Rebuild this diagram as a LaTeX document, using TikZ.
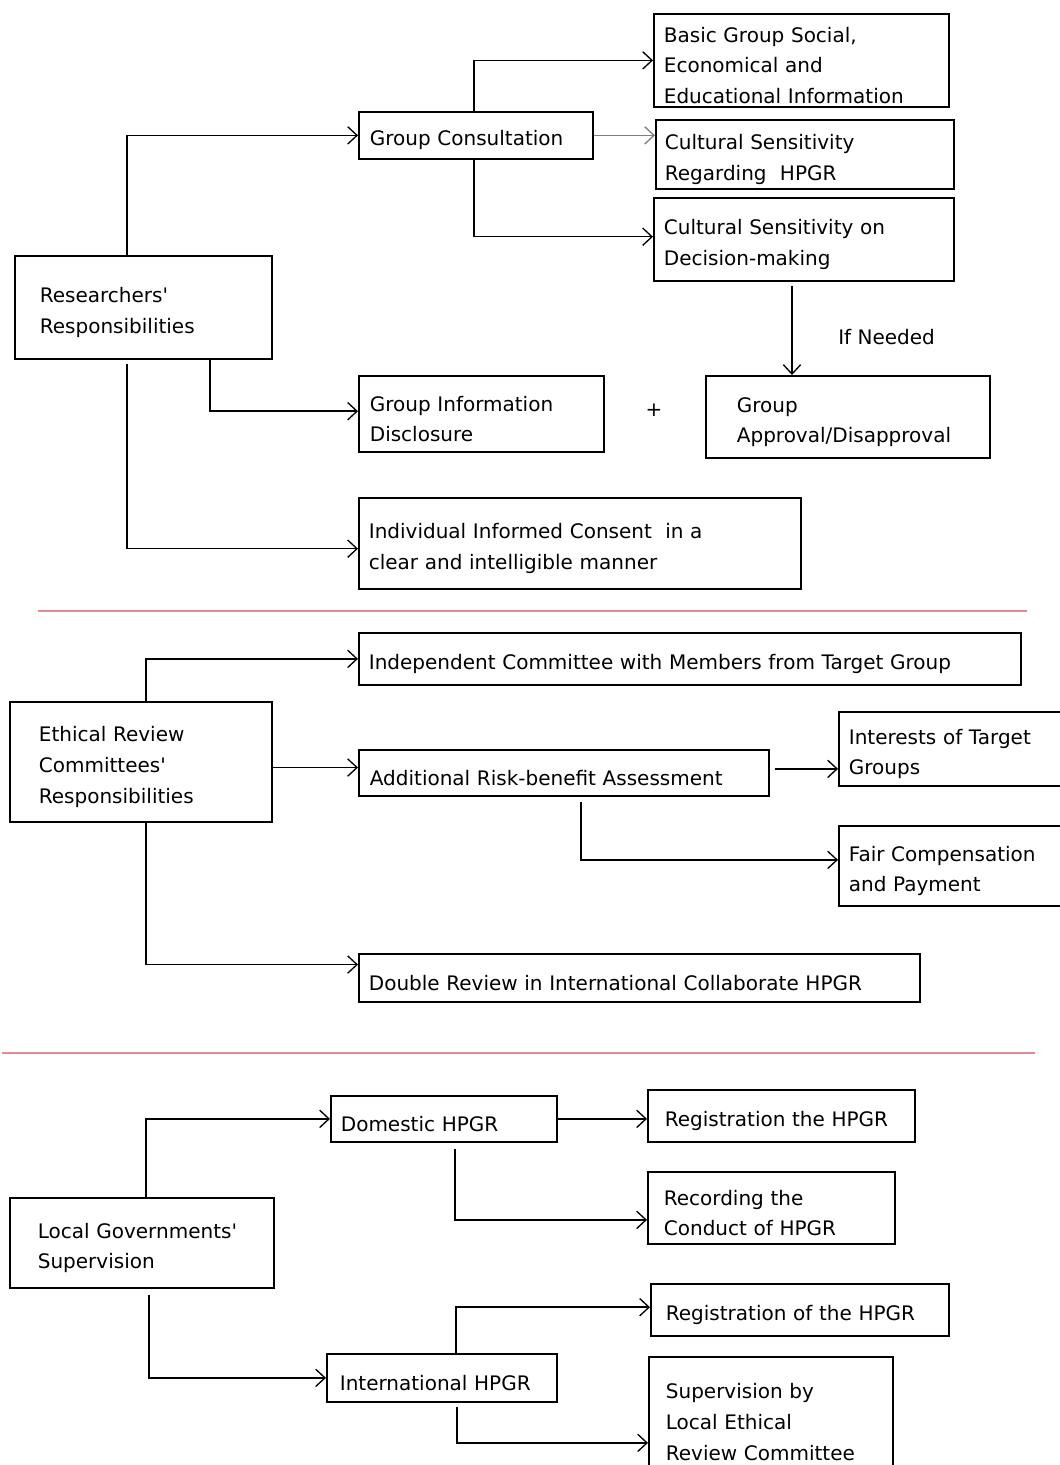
\documentclass[tikz,border=0pt]{standalone}
\usepackage{fontspec}
\setmainfont{DejaVu Sans}
\usetikzlibrary{arrows.meta,calc}
\definecolor{sepred}{RGB}{224,140,150}
\tikzset{
  box/.style={draw,line width=1.3pt,anchor=north west,align=left,inner ysep=0pt,
    execute at begin node={\rule{0pt}{19pt}}},
  arr/.style={line width=1.15pt,-{Straight Barb[length=7pt,width=13pt,line width=1pt]}},
  sepline/.style={line width=1.4pt,color=sepred}
}

\begin{document}
\begin{tikzpicture}[x=0.75pt,y=-0.75pt,font=\fontsize{15}{23}\selectfont]
\useasboundingbox (0,0) rectangle (1060,1465);
            \foreach \N/\X/\Y/\W/\H/\P/\T in
                {R/14/255/257/103/25/{Researchers\textquotesingle\\Responsibilities},
                GC/358/111/234/47/11/{Group Consultation},
                B1/653/13/295/93/10/{Basic Group Social,\\Economical and\\Educational Information},
                B2/655/119/298/69/9/{Cultural Sensitivity\\Regarding\ \ HPGR},
                B3/653/197/300/83/10/{Cultural Sensitivity on\\Decision-making},
                GA/705/375/284/82/31/{Group\\Approval/Disapproval},
                GID/358/375/245/76/11/{Group Information\\Disclosure},
                ICC/358/497/442/91/10/{Individual Informed Consent\ \ in a\\clear and intelligible manner},
                E/9/701/262/120/29/{Ethical Review\\Committees\textquotesingle\\Responsibilities},
                IC/358/632/662/52/10/{Independent Committee with Members from Target Group},
                ARB/358/749/410/46/11/{Additional Risk-benefit Assessment},
                ITG/838/711/240/74/10/{Interests of Target\\Groups},
                FCP/838/825/240/80/10/{Fair Compensation\\and Payment},
                DR/358/953/561/48/10/{Double Review in International Collaborate HPGR},
                L/9/1197/264/90/28/{Local Governments\textquotesingle\\Supervision},
                DH/330/1095/226/46/10/{Domestic HPGR},
                RH/647/1089/267/52/17/{Registration the HPGR},
                RC/647/1171/247/72/16/{Recording the\\Conduct of HPGR},
                IH/326/1353/230/48/13/{International HPGR},
                RoH/650/1283/298/52/15/{Registration of the HPGR},
                SLE/648/1356/244/120/17/{Supervision by\\Local Ethical\\Review Committee}}
                {\pgfmathsetmacro\tw{(\W-2*\P)*0.75}
                \pgfmathsetmacro\ps{\P*0.75}
                \pgfmathsetmacro\mh{\H*0.75}
            \node[box,inner xsep=\ps pt,text width=\tw pt,minimum height=\mh pt] (\N) at (\X,\Y) {\T};
            }
            \node (plus) at (654,410) {+};
            \node[anchor=west,inner sep=0pt] (ifneeded) at (838,337) {If Needed};
            % researchers
            \draw[arr] ($(R.north west)+(113,0)$) |- (GC.west);
            \draw[arr] ($(GC.north west)+(116,0)$) |- (B1.west);
            \draw[arr,gray] (GC.east) -- (GC.east -| B2.west);
            \draw[arr] ($(GC.south west)+(116,0)$) |- ([yshift=2pt]B3.west);
            \coordinate (ifn) at ($(B3.south west)+(139,4)$);
            \draw[arr] (ifn) -- (ifn |- GA.north);
            \draw[arr] ($(R.south west)+(196,0)$) |- ([yshift=2pt]GID.west);
            \draw[arr] ($(R.south west)+(113,4)$) |- ([yshift=-4pt]ICC.west);
            \draw[sepline] (38,611) -- (1027,611);
            % committees
            \draw[arr] ($(E.north west)+(137,0)$) |- (IC.west);
            \draw[arr] ([yshift=4pt]ARB.west -| E.east) -- ([yshift=4pt]ARB.west);
            \coordinate (arbe) at ($(ARB.east)+(5,-4)$);
            \draw[arr] (arbe) -- (arbe -| ITG.west);
            \draw[arr] ($(ARB.south west)+(223,5)$) |- ([yshift=4.5pt]FCP.west);
            \draw[arr] ($(E.south west)+(137,0)$) |- ([yshift=10pt]DR.west);
            \draw[sepline] (2,1053) -- (1035,1053);
            % governments
            \draw[arr] ($(L.north west)+(137,0)$) |- (DH.west);
            \draw[arr] (DH.east) -- (DH.east -| RH.west);
            \draw[arr] ($(DH.south west)+(125,6)$) |- ([yshift=-9pt]RC.west);
            \draw[arr] ($(L.south west)+(140,6)$) |- (IH.west);
            \draw[arr] ($(IH.north west)+(130,0)$) |- ([yshift=2pt]RoH.west);
            \draw[arr] ($(IH.south west)+(131,4)$) |- ([yshift=-19.5pt]SLE.west);
        \end{tikzpicture}
\end{document}
